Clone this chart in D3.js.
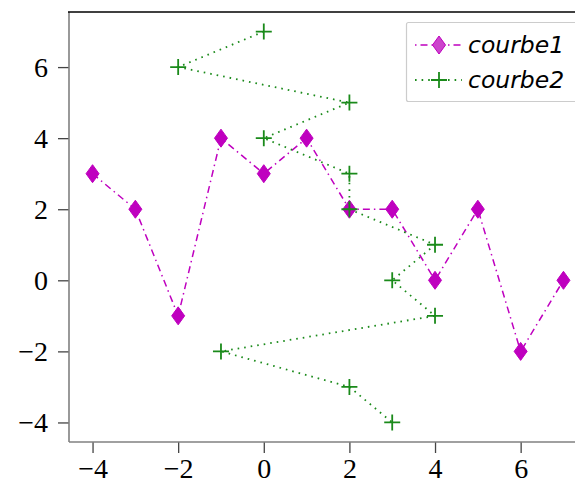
<!DOCTYPE html>
<html>
<head>
<meta charset="utf-8">
<script src="https://d3js.org/d3.v7.min.js"></script>
<style>
  body { margin: 0; background: #fff; }
  svg { display: block; }
</style>
</head>
<body>
<div id="chart"></div>
<script>
// series data
var courbe1X = [-4, -3, -2, -1, 0, 1, 2, 3, 4, 5, 6, 7];
var courbe1Y = [3, 2, -1, 4, 3, 4, 2, 2, 0, 2, -2, 0];
var courbe2X = [0, -2, 2, 0, 2, 2, 4, 3, 4, -1, 2, 3];
var courbe2Y = [7, 6, 5, 4, 3, 2, 1, 0, -1, -2, -3, -4];
var xTicks = [-4, -2, 0, 2, 4, 6];
var yTicks = [-4, -2, 0, 2, 4, 6];
var seriesNames = ['courbe1', 'courbe2'];

var width = 575, height = 484;
var mLeft = 69, mTop = 12, plotW = 518, plotH = 430;

var svg = d3.select('#chart').append('svg')
  .attr('width', width)
  .attr('height', height);

var x = d3.scaleLinear().domain([-4.55, 7.55]).range([mLeft, mLeft + plotW]);
var y = d3.scaleLinear().domain([-4.55, 7.55]).range([mTop + plotH, mTop]);

var tickFont = '"Liberation Serif", "DejaVu Serif", serif';
var minus = function(d) { return d < 0 ? '\u2212' + Math.abs(d) : String(d); };

// --- Axes ---
var xAxis = svg.append('g')
  .attr('transform', 'translate(0,' + (mTop + plotH) + ')')
  .call(d3.axisBottom(x).tickValues(xTicks).tickSize(11).tickPadding(4).tickFormat(minus));
var yAxis = svg.append('g')
  .attr('transform', 'translate(' + mLeft + ',0)')
  .call(d3.axisLeft(y).tickValues(yTicks).tickSize(11).tickPadding(10).tickFormat(minus));

[xAxis, yAxis].forEach(function(ax) {
  ax.select('.domain').remove();
  ax.selectAll('.tick line').attr('stroke', '#444').attr('stroke-width', 1.3);
  ax.selectAll('.tick text')
    .attr('fill', '#000')
    .style('font-family', tickFont)
    .style('font-size', '28px');
});
xAxis.selectAll('.tick text').attr('dy', '0.74em');
yAxis.selectAll('.tick text').attr('dy', '0.33em');

// frame: grey left/bottom, black top
svg.append('line')
  .attr('x1', mLeft).attr('x2', mLeft).attr('y1', mTop).attr('y2', mTop + plotH)
  .attr('stroke', '#808080').attr('stroke-width', 1.6);
svg.append('line')
  .attr('x1', mLeft).attr('x2', width).attr('y1', mTop + plotH).attr('y2', mTop + plotH)
  .attr('stroke', '#808080').attr('stroke-width', 1.6);
svg.append('line')
  .attr('x1', mLeft - 1).attr('x2', width).attr('y1', mTop).attr('y2', mTop)
  .attr('stroke', '#000').attr('stroke-width', 1.4);

// --- Series ---
var magenta = '#bf00bf';
var green = '#1a8a1a';

var data1 = courbe1X.map(function(v, i) { return [v, courbe1Y[i]]; });
var data2 = courbe2X.map(function(v, i) { return [v, courbe2Y[i]]; });

var line = d3.line()
  .x(function(d) { return x(d[0]); })
  .y(function(d) { return y(d[1]); });

function diamond(g, cx, cy, fill) {
  g.append('path')
    .attr('d', 'M' + cx + ',' + (cy - 9) + 'L' + (cx + 6.5) + ',' + cy +
      'L' + cx + ',' + (cy + 9) + 'L' + (cx - 6.5) + ',' + cy + 'Z')
    .attr('fill', fill)
    .attr('stroke', magenta)
    .attr('stroke-width', 1);
}

function plus(g, cx, cy) {
  g.append('path')
    .attr('d', 'M' + (cx - 8) + ',' + cy + 'H' + (cx + 8) + 'M' + cx + ',' + (cy - 8) + 'V' + (cy + 8))
    .attr('stroke', green)
    .attr('stroke-width', 1.8)
    .attr('fill', 'none');
}

var g1 = svg.append('g');
g1.append('path')
  .attr('d', line(data1))
  .attr('fill', 'none')
  .attr('stroke', magenta)
  .attr('stroke-width', 1.5)
  .attr('stroke-dasharray', '7,4,1.5,4');
data1.forEach(function(d) { diamond(g1, x(d[0]), y(d[1]), magenta); });

var g2 = svg.append('g');
g2.append('path')
  .attr('d', line(data2))
  .attr('fill', 'none')
  .attr('stroke', green)
  .attr('stroke-width', 1.8)
  .attr('stroke-dasharray', '1.6,5');
data2.forEach(function(d) { plus(g2, x(d[0]), y(d[1])); });

// --- Legend ---
var leg = svg.append('g');
leg.append('rect')
  .attr('x', 406.5).attr('y', 22.5)
  .attr('width', 190).attr('height', 79)
  .attr('rx', 2)
  .attr('fill', '#fff')
  .attr('stroke', '#cccccc')
  .attr('stroke-width', 1.2);

var rows = [45, 80];
rows.forEach(function(ry, i) {
  if (i === 0) {
    leg.append('line')
      .attr('x1', 415).attr('x2', 462).attr('y1', ry).attr('y2', ry)
      .attr('stroke', magenta).attr('stroke-width', 1.5)
      .attr('stroke-dasharray', '1.5,4,7,4');
    diamond(leg, 439, ry, '#cc44cc');
  } else {
    leg.append('line')
      .attr('x1', 415).attr('x2', 462).attr('y1', ry).attr('y2', ry)
      .attr('stroke', green).attr('stroke-width', 1.8)
      .attr('stroke-dasharray', '1.6,5');
    plus(leg, 439, ry);
  }
  leg.append('text')
    .attr('x', 468).attr('y', ry)
    .attr('dy', '0.35em')
    .style('font-family', '"DejaVu Sans", sans-serif')
    .style('font-style', 'italic')
    .style('font-size', '23.5px')
    .attr('fill', '#000')
    .text(seriesNames[i]);
});
</script>
</body>
</html>
